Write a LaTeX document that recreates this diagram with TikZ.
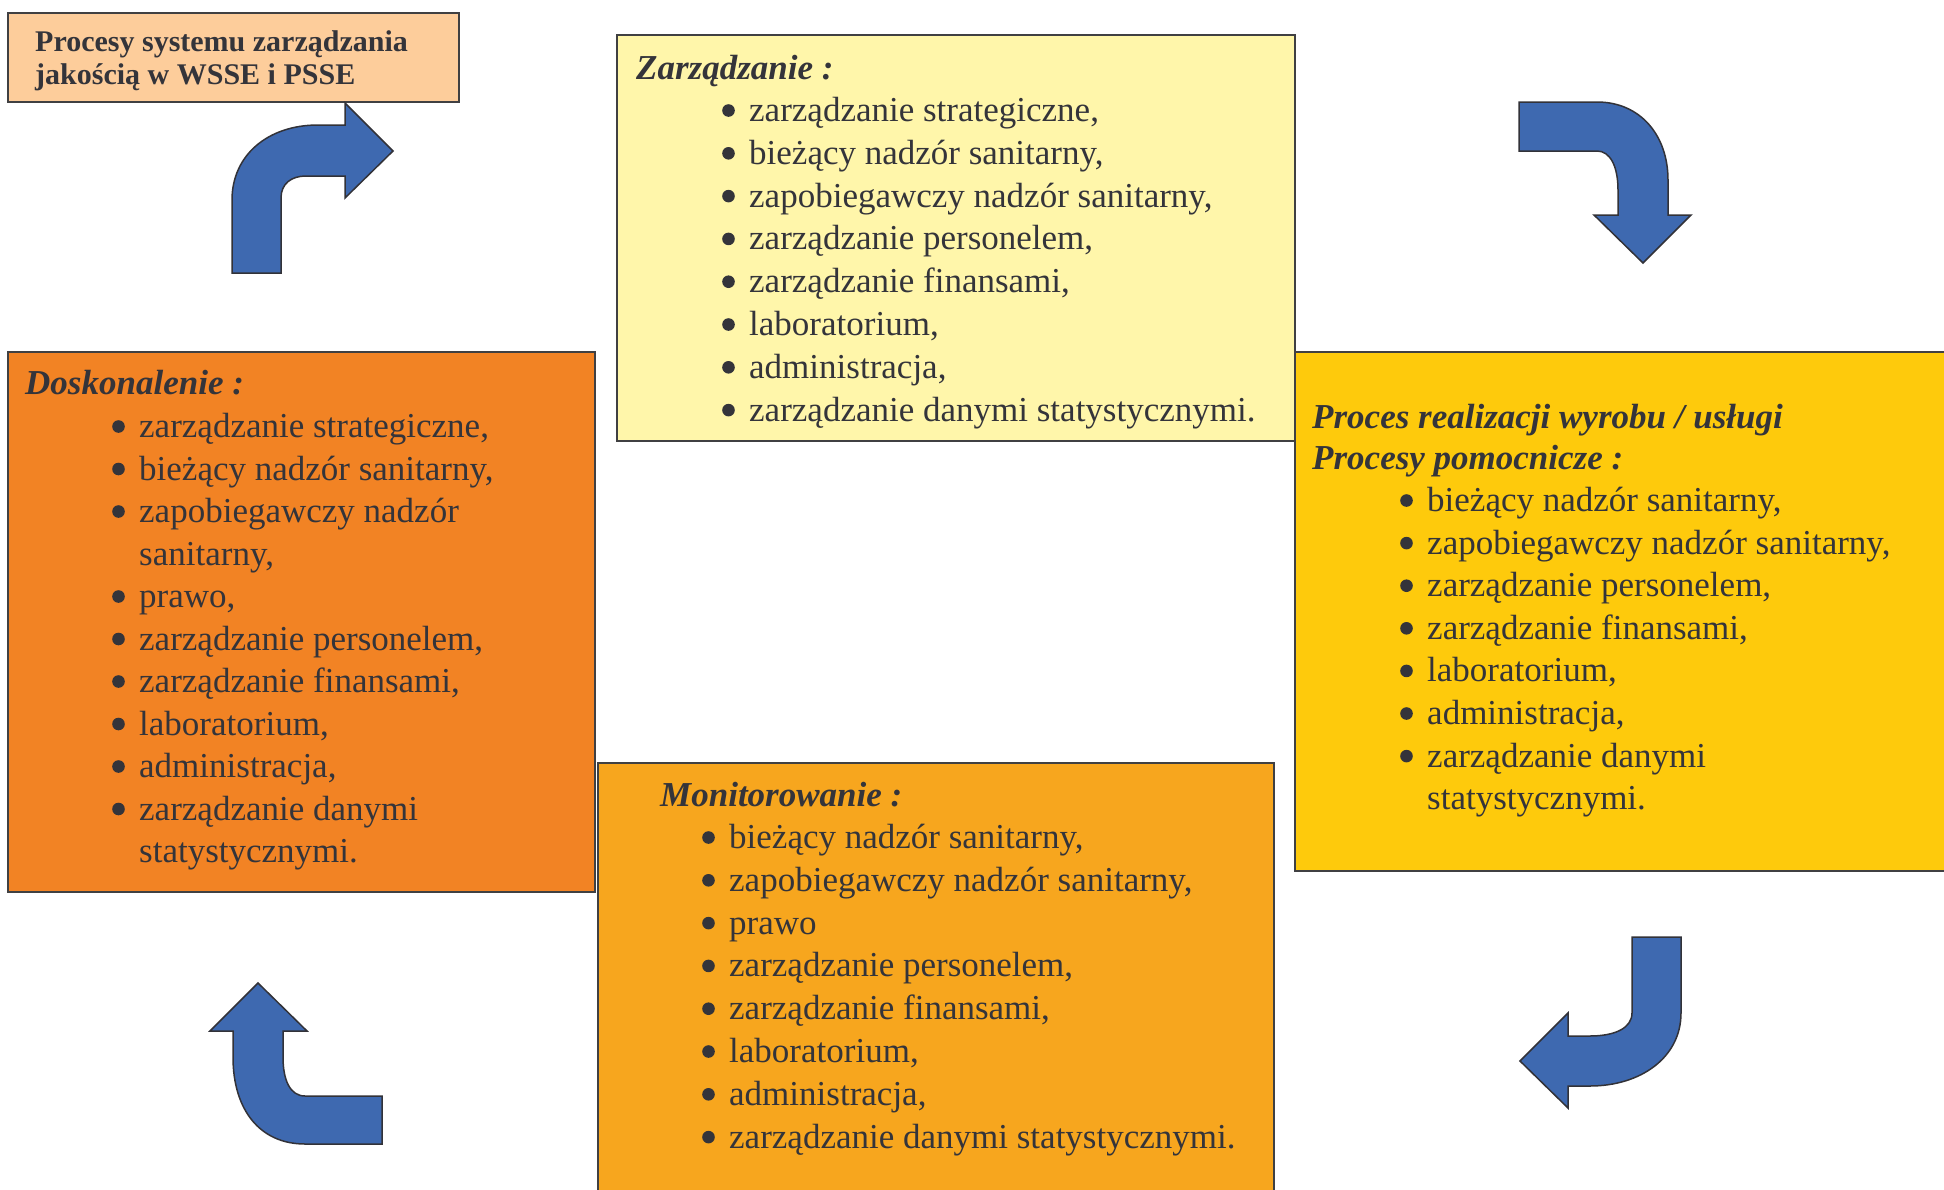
\documentclass[tikz,border=0pt]{standalone}
\usepackage{fontspec}
\setmainfont{Liberation Serif}
\definecolor{ink}{RGB}{52,52,58}
\definecolor{boxline}{RGB}{64,64,66}
\definecolor{peach}{RGB}{253,205,155}
\definecolor{paleyellow}{RGB}{255,246,170}
\definecolor{gold}{RGB}{254,202,12}
\definecolor{deeporange}{RGB}{242,131,36}
\definecolor{amber}{RGB}{247,166,30}
\definecolor{arrowblue}{RGB}{62,105,176}
\definecolor{arrowline}{RGB}{50,50,56}
\tikzset{
  box/.style={draw=boxline, line width=2pt, anchor=north west, inner sep=0pt},
  txt/.style={anchor=base west, inner sep=0pt, text=ink, font=\fontsize{35}{42}\selectfont},
  headtxt/.style={txt, font=\fontsize{35}{42}\selectfont\bfseries\itshape},
  titletxt/.style={txt, font=\fontsize{30}{33}\selectfont\bfseries},
  dot/.style={fill=ink},
  bentarrow/.style={fill=arrowblue, draw=arrowline, line width=1.5pt, line join=miter}
}
% one list line: #1 = 1 for a bulleted line, 0 for a continuation line
\newcommand\listline[5]{%
  \node[txt] (#2) at (#3,#4) {#5};
  \ifnum#1=1 \fill[dot] ($(#2.base west)+(-20.5,-11)$) circle (6.3pt);\fi}
\usetikzlibrary{calc}
\begin{document}
\begin{tikzpicture}[x=1pt, y=-1pt]
\useasboundingbox (0,0) rectangle (1944,1189);
\clip (0,0) rectangle (1944,1189);
\fill[white] (0,0) rectangle (1944,1189);

% title box
\node[box, fill=peach, minimum width=451pt, minimum height=89pt] (title) at (7,12) {};
\node[titletxt] (title1) at (35,51) {Procesy systemu zarządzania};
\node[titletxt] (title2) at (35,84) {jakością w WSSE i PSSE};

% Zarządzanie
\node[box, fill=paleyellow, minimum width=678pt, minimum height=406pt] (zarz) at (616,34) {};
\node[headtxt] (zarzhead) at (636,79) {Zarządzanie :};
\foreach [count=\i from 0] \b/\t in {1/{zarządzanie strategiczne,},1/{bieżący nadzór sanitarny,},
  1/{zapobiegawczy nadzór sanitarny,},1/{zarządzanie personelem,},1/{zarządzanie finansami,},
  1/{laboratorium,},1/{administracja,},1/{zarządzanie danymi statystycznymi.}}
  {\listline{\b}{z\i}{749}{121.5+42.8*\i}{\t}}

% Proces realizacji / procesy pomocnicze
\node[box, fill=gold, minimum width=700pt, minimum height=519pt] (proc) at (1294,351) {};
\node[headtxt] (prochead1) at (1312,428.5) {Proces realizacji wyrobu / usługi};
\node[headtxt] (prochead2) at (1312,469.5) {Procesy pomocnicze :};
\foreach [count=\i from 0] \b/\t in {1/{bieżący nadzór sanitarny,},1/{zapobiegawczy nadzór sanitarny,},
  1/{zarządzanie personelem,},1/{zarządzanie finansami,},1/{laboratorium,},
  1/{administracja,},1/{zarządzanie danymi},0/{statystycznymi.}}
  {\listline{\b}{p\i}{1427}{511.5+42.6*\i}{\t}}

% Doskonalenie
\node[box, fill=deeporange, minimum width=587pt, minimum height=540pt] (dosk) at (7,351) {};
\node[headtxt] (doskhead) at (25,394.5) {Doskonalenie :};
\foreach [count=\i from 0] \b/\t in {1/{zarządzanie strategiczne,},1/{bieżący nadzór sanitarny,},
  1/{zapobiegawczy nadzór},0/{sanitarny,},1/{prawo,},1/{zarządzanie personelem,},
  1/{zarządzanie finansami,},1/{laboratorium,},1/{administracja,},1/{zarządzanie danymi},
  0/{statystycznymi.}}
  {\listline{\b}{d\i}{139}{437.5+42.5*\i}{\t}}

% Monitorowanie
\node[box, fill=amber, minimum width=676pt, minimum height=460pt] (moni) at (597,762) {};
\node[headtxt] (monihead) at (660,806.5) {Monitorowanie :};
\foreach [count=\i from 0] \b/\t in {1/{bieżący nadzór sanitarny,},1/{zapobiegawczy nadzór sanitarny,},
  1/{prawo},1/{zarządzanie personelem,},1/{zarządzanie finansami,},1/{laboratorium,},
  1/{administracja,},1/{zarządzanie danymi statystycznymi.}}
  {\listline{\b}{m\i}{729}{848.5+42.8*\i}{\t}}

% bent arrows of the cycle
% top left: up, then right
\draw[bentarrow] (232,273) -- (232,200) .. controls (232,155) and (268,125) .. (318,125)
  -- (345,125) -- (345,103) -- (393,151) -- (345,198) -- (345,176) -- (306,176)
  .. controls (291,176) and (281,184) .. (281,198) -- (281,273) -- cycle;
% top right: right, then down
\draw[bentarrow] (1519,102) -- (1597,102) .. controls (1640,102) and (1668,135) .. (1668,180)
  -- (1668,215) -- (1691,215) -- (1643,263) -- (1594,215) -- (1618,215) -- (1618,190)
  .. controls (1618,166) and (1610,151) .. (1597,151) -- (1519,151) -- cycle;
% bottom right: down, then left
\draw[bentarrow] (1632,937) -- (1681,937) -- (1681,1013) .. controls (1681,1058) and (1640,1086) .. (1590,1086)
  -- (1568,1086) -- (1568,1108) -- (1520,1061) -- (1568,1013) -- (1568,1036) -- (1590,1036)
  .. controls (1615,1036) and (1632,1028) .. (1632,1013) -- cycle;
% bottom left: left, then up
\draw[bentarrow] (258,983) -- (307,1031) -- (283,1031) -- (283,1057)
  .. controls (283,1080) and (290,1096) .. (305,1096) -- (382,1096) -- (382,1144) -- (305,1144)
  .. controls (260,1144) and (233,1110) .. (233,1057) -- (233,1031) -- (210,1031) -- cycle;
\end{tikzpicture}
\end{document}
